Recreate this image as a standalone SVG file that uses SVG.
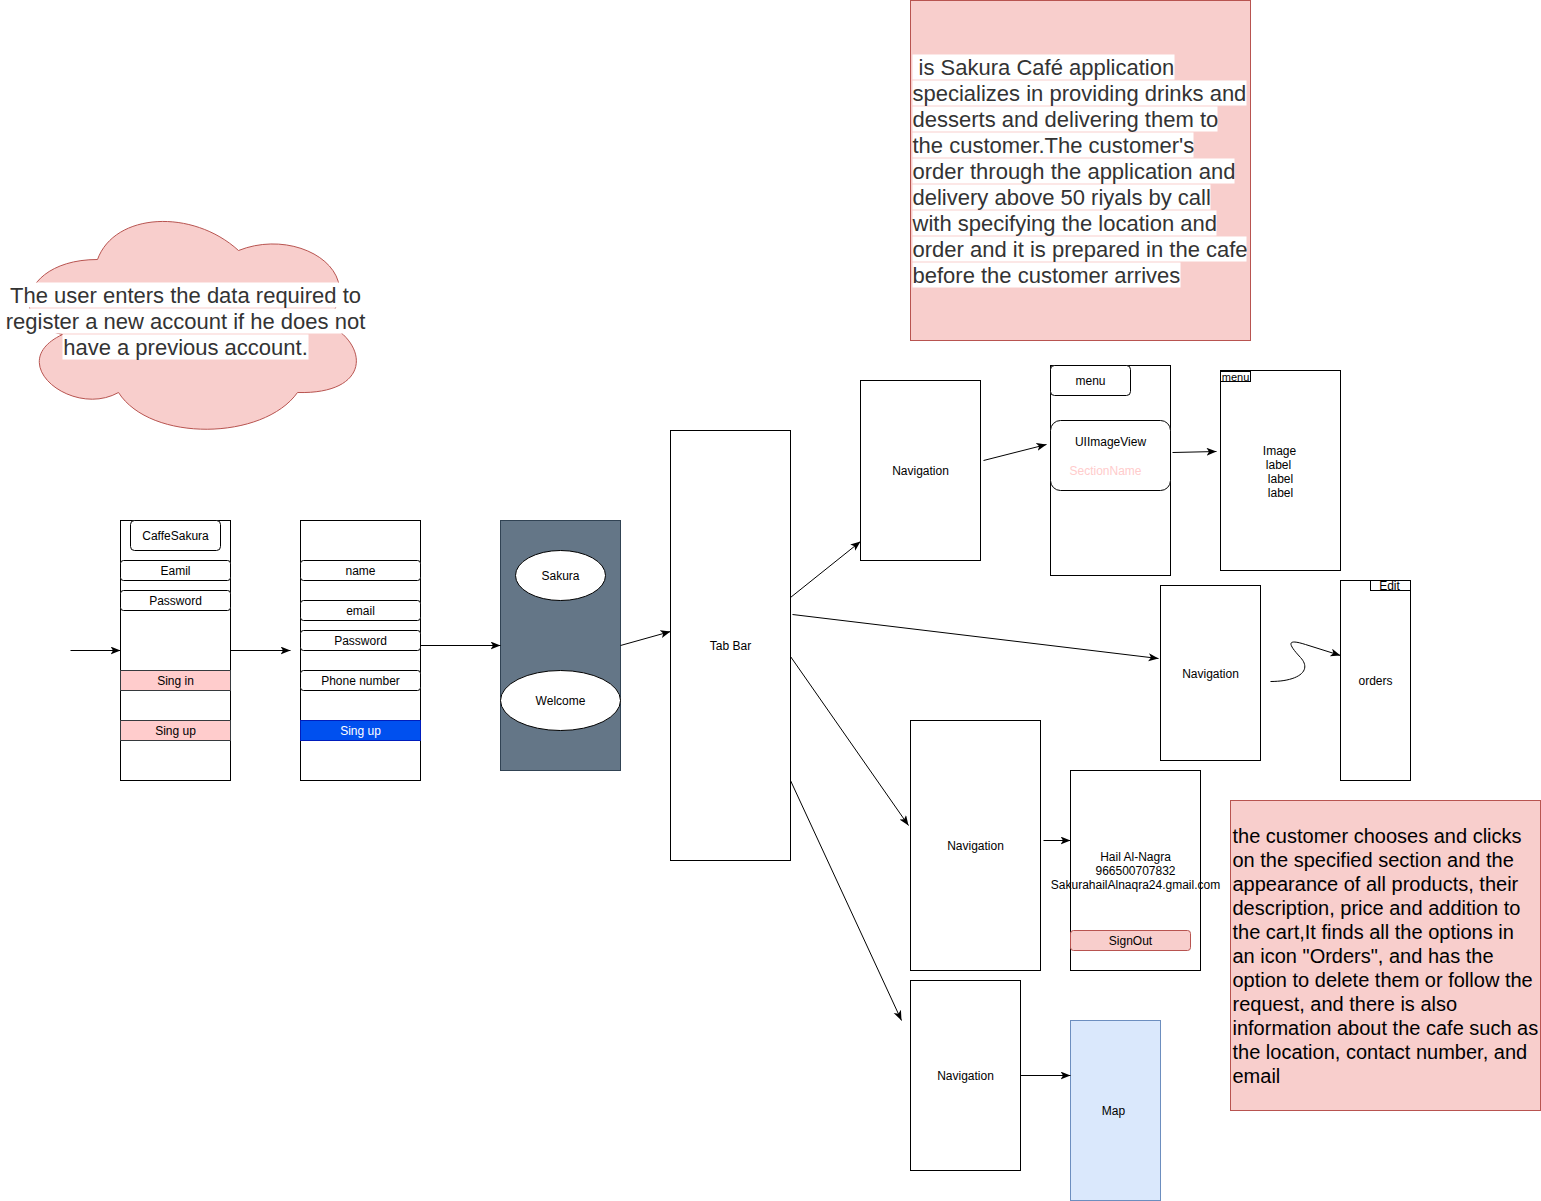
<svg xmlns="http://www.w3.org/2000/svg" width="1541" height="1201" viewBox="0 0 1541 1201">
<defs>
<style>
.n{fill:#ffffff;stroke:#000000;stroke-width:1}
.t{font-family:"Liberation Sans",Arial,sans-serif;font-size:12px;fill:#000000;text-anchor:middle;dominant-baseline:central}
.pk{fill:#ffcccc;stroke:#36393d;stroke-width:1}
.note{fill:#f8cecc;stroke:#b85450;stroke-width:1}
.big{font-family:"Liberation Sans",Arial,sans-serif;font-size:22px;fill:#333333}
.big2{font-family:"Liberation Sans",Arial,sans-serif;font-size:20px;fill:#000000}
.hl{fill:#ffffff}
.c{fill:none;stroke:#000000;stroke-width:1;marker-end:url(#arr)}
</style>
<marker id="arr" markerUnits="userSpaceOnUse" markerWidth="12" markerHeight="10" refX="10" refY="4" orient="auto">
<path d="M0,0 L10,4 L0,8 L2.5,4 Z" fill="#000000"/>
</marker>
</defs>
<rect width="1541" height="1201" fill="#ffffff"/>
<g transform="translate(0.5,0.5)">

<g id="cloud-note">
<path class="note" d="M97,259 C22,259 6,322 62,334 C2,362 72,418 118,392 C150,442 263,440 297,392 C370,394 370,344 325,322 C370,272 298,226 238,250 C192,208 114,212 97,259 Z"/>
<rect class="hl" x="9" y="282" width="352" height="25"/>
<rect class="hl" x="5" y="308" width="360" height="25"/>
<rect class="hl" x="62" y="334" width="246" height="25"/>
<text class="big" text-anchor="middle"><tspan x="185" y="302">The user enters the data required to</tspan><tspan x="185" y="328">register a new account if he does not</tspan><tspan x="185" y="354">have a previous account.</tspan></text>
</g>

<g id="desc-top">
<rect class="note" x="910" y="0" width="340" height="340"/>
<rect class="hl" x="912" y="54" width="262" height="25"/>
<rect class="hl" x="912" y="80" width="334" height="25"/>
<rect class="hl" x="912" y="106" width="305" height="25"/>
<rect class="hl" x="912" y="132" width="281" height="25"/>
<rect class="hl" x="912" y="158" width="322" height="25"/>
<rect class="hl" x="912" y="184" width="298" height="25"/>
<rect class="hl" x="912" y="210" width="304" height="25"/>
<rect class="hl" x="912" y="236" width="334" height="25"/>
<rect class="hl" x="912" y="262" width="268" height="25"/>
<text class="big" xml:space="preserve"><tspan x="912" y="74"> is Sakura Café application</tspan><tspan x="912" y="100">specializes in providing drinks and</tspan><tspan x="912" y="126">desserts and delivering them to</tspan><tspan x="912" y="152">the customer.The customer's</tspan><tspan x="912" y="178">order through the application and</tspan><tspan x="912" y="204">delivery above 50 riyals by call</tspan><tspan x="912" y="230">with specifying the location and</tspan><tspan x="912" y="256">order and it is prepared in the cafe</tspan><tspan x="912" y="282">before the customer arrives</tspan></text>
</g>

<g id="desc-bottom">
<rect class="note" x="1230" y="800" width="310" height="310"/>
<text class="big2"><tspan x="1232" y="842">the customer chooses and clicks</tspan><tspan x="1232" y="866">on the specified section and the</tspan><tspan x="1232" y="890">appearance of all products, their</tspan><tspan x="1232" y="914">description, price and addition to</tspan><tspan x="1232" y="938">the cart,It finds all the options in</tspan><tspan x="1232" y="962">an icon "Orders", and has the</tspan><tspan x="1232" y="986">option to delete them or follow the</tspan><tspan x="1232" y="1010">request, and there is also</tspan><tspan x="1232" y="1034">information about the cafe such as</tspan><tspan x="1232" y="1058">the location, contact number, and</tspan><tspan x="1232" y="1082">email</tspan></text>
</g>

<g id="signin">
<rect class="n" x="120" y="520" width="110" height="260"/>
<rect class="n" x="130" y="520" width="90" height="30" rx="4"/>
<text class="t" x="175" y="535.5">CaffeSakura</text>
<rect class="n" x="120" y="560" width="110" height="20" rx="3"/>
<text class="t" x="175" y="570.5">Eamil</text>
<rect class="n" x="120" y="590" width="110" height="20" rx="3"/>
<text class="t" x="175" y="600.5">Password</text>
<rect class="pk" x="120" y="670" width="110" height="20"/>
<text class="t" x="175" y="680.5">Sing in</text>
<rect class="pk" x="120" y="720" width="110" height="20"/>
<text class="t" x="175" y="730.5">Sing up</text>
</g>

<g id="signup">
<rect class="n" x="300" y="520" width="120" height="260"/>
<rect class="n" x="300" y="560" width="120" height="20" rx="3"/>
<text class="t" x="360" y="570.5">name</text>
<rect class="n" x="300" y="600" width="120" height="20" rx="3"/>
<text class="t" x="360" y="610.5">email</text>
<rect class="n" x="300" y="630" width="120" height="20" rx="3"/>
<text class="t" x="360" y="640.5">Password</text>
<rect class="n" x="300" y="670" width="120" height="20" rx="3"/>
<text class="t" x="360" y="680.5">Phone number</text>
<rect x="300" y="720" width="120" height="20" fill="#0050ef" stroke="#001dbc"/>
<text class="t" x="360" y="730.5" style="fill:#ffffff">Sing up</text>
</g>

<g id="welcome">
<rect x="500" y="520" width="120" height="250" fill="#647687" stroke="#314354"/>
<ellipse class="n" cx="560" cy="575" rx="45" ry="25"/>
<text class="t" x="560" y="575.5">Sakura</text>
<ellipse class="n" cx="560" cy="700" rx="60" ry="30"/>
<text class="t" x="560" y="700.5">Welcome</text>
</g>

<g id="tabbar">
<rect class="n" x="670" y="430" width="120" height="430"/>
<text class="t" x="730" y="645.5">Tab Bar</text>
</g>

<g id="nav1">
<rect class="n" x="860" y="380" width="120" height="180"/>
<text class="t" x="920" y="470.5">Navigation</text>
</g>

<g id="menu">
<rect class="n" x="1050" y="365" width="120" height="210"/>
<rect class="n" x="1050" y="365" width="80" height="30" rx="4"/>
<text class="t" x="1090" y="380.5">menu</text>
<rect class="n" x="1050" y="420" width="120" height="70" rx="10"/>
<text class="t" x="1110" y="441.5">UIImageView</text>
<text class="t" x="1105" y="470.5" style="fill:#ffcccc">SectionName</text>
</g>

<g id="detail">
<rect class="n" x="1220" y="370" width="120" height="200"/>
<rect class="n" x="1220" y="371" width="30" height="10"/>
<text class="t" x="1235" y="376" style="font-size:11px">menu</text>
<text class="t" x="1279" y="450.5">Image</text>
<text class="t" x="1278" y="464.5">label</text>
<text class="t" x="1280" y="478.5">label</text>
<text class="t" x="1280" y="492.5">label</text>
</g>

<g id="nav2">
<rect class="n" x="1160" y="585" width="100" height="175"/>
<text class="t" x="1210" y="673.5">Navigation</text>
</g>

<g id="orders">
<rect class="n" x="1340" y="580" width="70" height="200"/>
<rect class="n" x="1370" y="580" width="40" height="10"/>
<text class="t" x="1389" y="585.5">Edit</text>
<text class="t" x="1375" y="680.5">orders</text>
</g>

<g id="nav3">
<rect class="n" x="910" y="720" width="130" height="250"/>
<text class="t" x="975" y="845.5">Navigation</text>
</g>

<g id="profile">
<rect class="n" x="1070" y="770" width="130" height="200"/>
<text class="t" x="1135" y="856.5">Hail Al-Nagra</text>
<text class="t" x="1135" y="870.5">966500707832</text>
<text class="t" x="1135" y="884.5">SakurahailAlnaqra24.gmail.com</text>
<rect x="1070" y="930" width="120" height="20" rx="3" fill="#f8cecc" stroke="#b85450"/>
<text class="t" x="1130" y="940.5">SignOut</text>
</g>

<g id="nav4">
<rect class="n" x="910" y="980" width="110" height="190"/>
<text class="t" x="965" y="1075.5">Navigation</text>
</g>

<g id="map">
<rect x="1070" y="1020" width="90" height="180" fill="#dae8fc" stroke="#6c8ebf"/>
<text class="t" x="1113" y="1110.5">Map</text>
</g>

<g id="connectors">
<line class="c" x1="70" y1="650" x2="120" y2="650"/>
<line class="c" x1="230" y1="650" x2="290" y2="650"/>
<line class="c" x1="420" y1="645" x2="500" y2="645"/>
<line class="c" x1="620" y1="645" x2="670" y2="631"/>
<line class="c" x1="790" y1="597" x2="860" y2="541"/>
<line class="c" x1="983" y1="460" x2="1046" y2="444"/>
<line class="c" x1="1172" y1="452" x2="1216" y2="451"/>
<line class="c" x1="792" y1="614" x2="1158" y2="658"/>
<path class="c" d="M1270,681 C1298,681 1312,670 1300,657 C1287,643 1286,638 1305,644 L1340,655"/>
<line class="c" x1="790" y1="656" x2="908" y2="825"/>
<line class="c" x1="790" y1="780" x2="901" y2="1020"/>
<line class="c" x1="1043" y1="840" x2="1070" y2="840"/>
<line class="c" x1="1020" y1="1075" x2="1070" y2="1075"/>
</g>
</g>
</svg>
